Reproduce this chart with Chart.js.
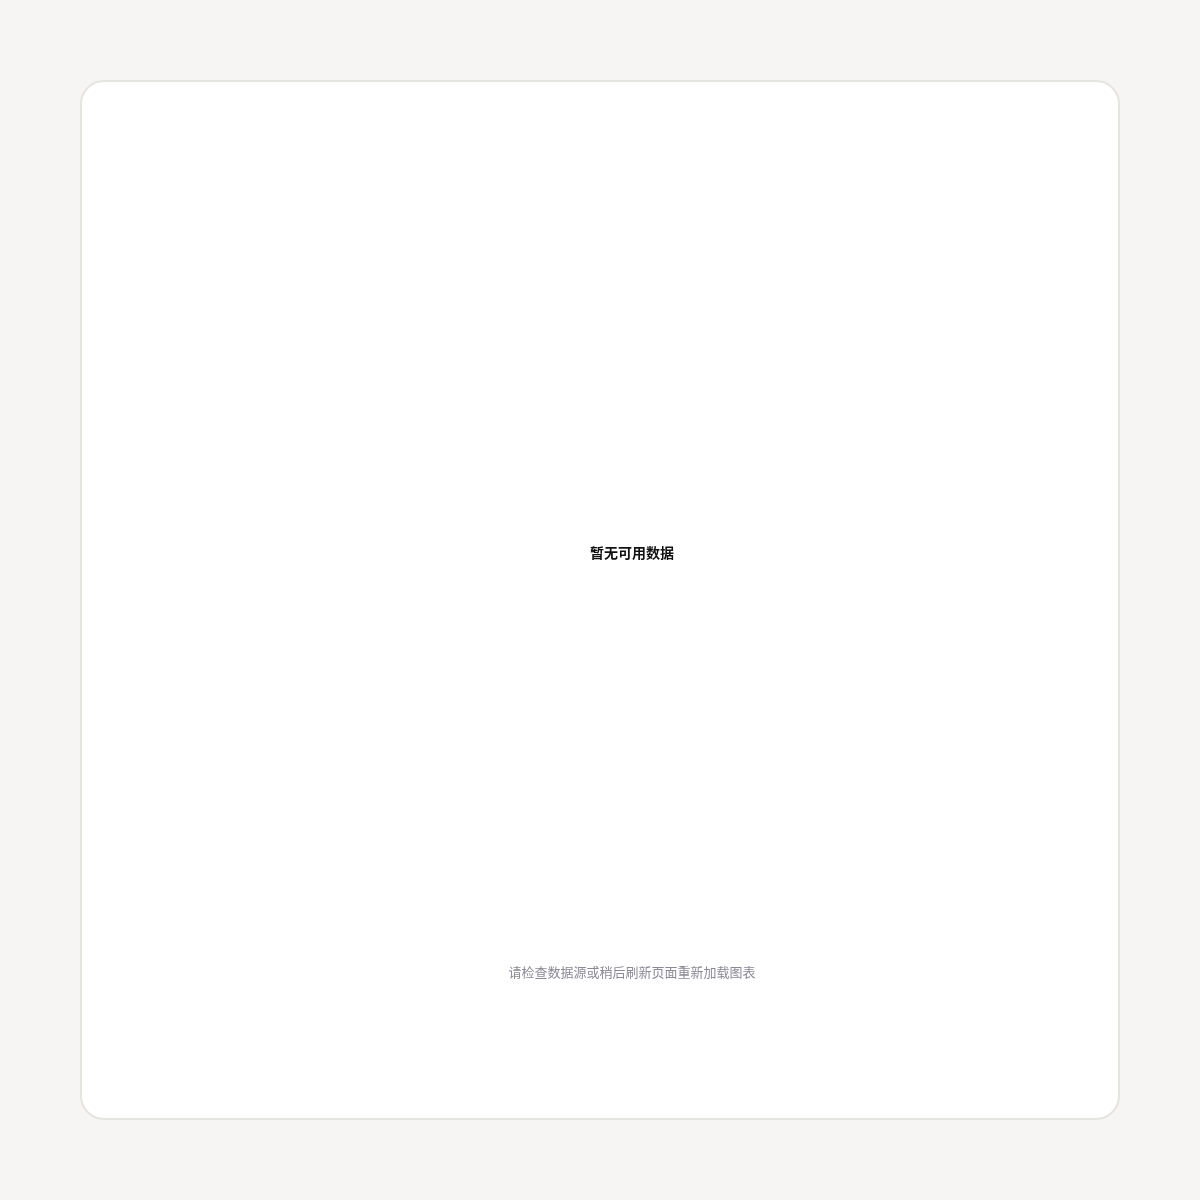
<!DOCTYPE html>
<html lang="zh-CN">
<head>
  <meta charset="UTF-8">
  <title>暂无可用数据</title>
  <script src="https://cdn.jsdelivr.net/npm/chart.js"></script>
  <style>
    html, body { margin: 0; padding: 0; background: #f6f5f3; width: 1200px; height: 1200px; font-family: 'Noto Sans CJK SC', 'DejaVu Sans', sans-serif; }
    .card { position: absolute; left: 80px; top: 80px; width: 1036px; height: 1036px; background: #ffffff; border: 2px solid #e6e4e0; border-radius: 24px; }
    .chart-box { position: absolute; left: 18px; top: 18px; width: 1000px; height: 1000px; }
  </style>
</head>
<body>
  <div class="card">
    <div class="chart-box"><canvas id="chart"></canvas></div>
  </div>

  <script>
    // 图中没有可见的数据项
    const categories = [];
    const values = [];
    const centerLabel = '暂无可用数据';
    const caption = '请检查数据源或稍后刷新页面重新加载图表';

    const centerText = {
      id: 'centerText',
      afterDraw(chart) {
        const { ctx, chartArea } = chart;
        ctx.save();
        ctx.font = 'bold 14px "Noto Sans CJK SC", sans-serif';
        ctx.fillStyle = '#111111';
        ctx.textAlign = 'center';
        ctx.textBaseline = 'middle';
        ctx.fillText(centerLabel, (chartArea.left + chartArea.right) / 2, (chartArea.top + chartArea.bottom) / 2);
        ctx.restore();
      }
    };

    new Chart(document.getElementById('chart'), {
      type: 'doughnut',
      data: {
        labels: categories,
        datasets: [{ data: values, borderWidth: 0 }]
      },
      options: {
        responsive: true,
        maintainAspectRatio: false,
        animation: false,
        layout: { padding: { left: 64, top: 40, right: 0, bottom: 120 } },
        plugins: {
          legend: { display: false },
          tooltip: { enabled: false },
          subtitle: {
            display: true,
            position: 'bottom',
            text: caption,
            color: '#8b8a94',
            font: { size: 13, family: '"Noto Sans CJK SC", sans-serif' },
            padding: 0
          }
        }
      },
      plugins: [centerText]
    });
  </script>
</body>
</html>
